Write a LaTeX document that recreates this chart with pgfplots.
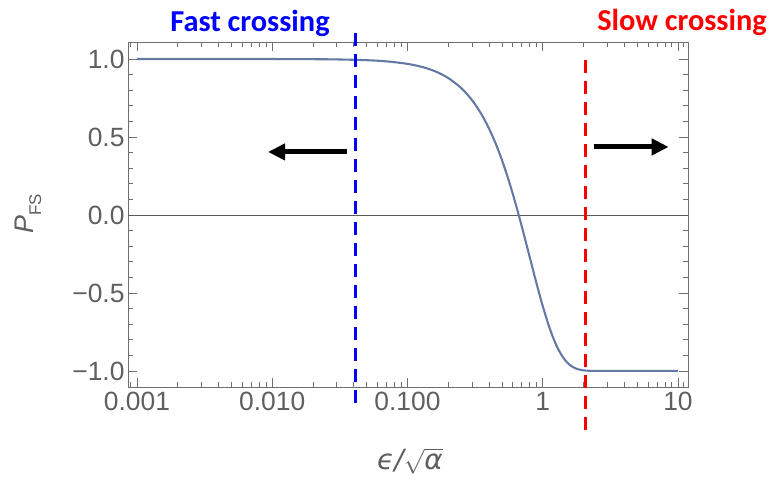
\documentclass[border=0pt]{standalone}
\usepackage{fontspec}
\setmainfont{Liberation Sans}
\newfontfamily\calib{Carlito}
\newfontfamily\dejavu{DejaVu Sans}
\usepackage{pgfplots}
\pgfplotsset{compat=1.18}
\usetikzlibrary{arrows.meta}
\definecolor{curve}{RGB}{100,122,165}
\definecolor{fgray}{RGB}{110,110,110}
\definecolor{tgray}{RGB}{95,95,95}
\definecolor{zgray}{RGB}{90,90,90}
\begin{document}
\begin{tikzpicture}[x=1bp,y=1bp]
\useasboundingbox (0,0) rectangle (774,480);
\begin{axis}[
  at={(128bp,93bp)}, anchor=south west,
  scale only axis, width=560bp, height=345bp,
  xmode=log, xmin=0.000858, xmax=11.86, ymin=-1.103, ymax=1.109,
  xtick={0.001,0.01,0.1,1,10}, xticklabels={0.001,0.010,0.100,1,10},
  minor xtick={0.0009,0.002,0.003,0.004,0.005,0.006,0.007,0.008,0.009,0.02,0.03,0.04,0.05,0.06,0.07,0.08,0.09,0.2,0.3,0.4,0.5,0.6,0.7,0.8,0.9,2,3,4,5,6,7,8,9,11},
  ytick={-1,-0.5,0,0.5,1}, yticklabels={−1.0,−0.5,0.0,0.5,1.0},
  minor ytick={-0.9,-0.8,-0.7,-0.6,-0.4,-0.3,-0.2,-0.1,0.1,0.2,0.3,0.4,0.6,0.7,0.8,0.9},
  tick align=inside, major tick length=9bp, minor tick length=5bp,
  axis line style={fgray, line width=0.9pt},
  every tick/.style={fgray, line width=0.7pt},
  tick label style={font=\fontsize{26.5}{30}\selectfont, text=tgray},
  xticklabel style={yshift=-2bp},
  clip=false,
]
\addplot[zgray, line width=0.8pt, forget plot] coordinates {(0.000858,0) (11.86,0)};
\addplot[curve, line width=2.1pt, smooth] coordinates {
(0.001,1.0000) (0.002,0.99999) (0.005,0.99992) (0.01,0.9997) (0.02,0.9987) (0.03,0.9972)
(0.05,0.9922) (0.07,0.9847) (0.1,0.9688) (0.13,0.9476) (0.16,0.9212) (0.2,0.8782)
(0.25,0.8130) (0.3,0.7363) (0.35,0.6499) (0.4,0.5554) (0.45,0.4551) (0.5,0.3505)
(0.55,0.2436) (0.6,0.1362) (0.65,0.0299) (0.7,-0.0737) (0.75,-0.1734) (0.8,-0.2682)
(0.85,-0.3571) (0.9,-0.4396) (0.95,-0.5154) (1.0,-0.5842) (1.1,-0.7011) (1.2,-0.7918)
(1.3,-0.8594) (1.4,-0.9080) (1.5,-0.9417) (1.6,-0.9641) (1.7,-0.9786) (1.8,-0.9877)
(1.9,-0.9931) (2.0,-0.9963) (2.2,-0.9990) (2.5,-0.9999) (3,-1.0) (5,-1.0) (10,-1.0)};
\addplot[blue, line width=3bp, dash pattern=on 13bp off 8bp] coordinates {(0.041,1.167) (0.041,-1.25)};
\addplot[red, line width=3bp, dash pattern=on 13bp off 8bp] coordinates {(2.08,0.994) (2.08,-1.423)};
\addplot[black, line width=5bp, -{Triangle[length=17bp,width=16bp]}] coordinates {(0.0357,0.404) (0.00931,0.404)};
\addplot[black, line width=5bp, -{Triangle[length=17bp,width=16bp]}] coordinates {(2.38,0.436) (8.53,0.436)};
\end{axis}
\node[anchor=base, text=blue, font=\calib\bfseries\fontsize{30.5}{34}\selectfont] at (250,448) {Fast crossing};
\node[anchor=base, text=red, font=\calib\bfseries\fontsize{30.5}{34}\selectfont] at (682,449) {Slow crossing};
\node[rotate=90, text=tgray, font=\fontsize{27}{30}\selectfont] at (28,266) {\itshape P\upshape\raisebox{-0.3em}{\fontsize{17}{20}\selectfont FS}};
\node[text=tgray, font=\dejavu\fontsize{28}{32}\selectfont] at (410,19) {\itshape ϵ/\upshape$\sqrt{\hbox{\dejavu\itshape α}}$};
\end{tikzpicture}
\end{document}
